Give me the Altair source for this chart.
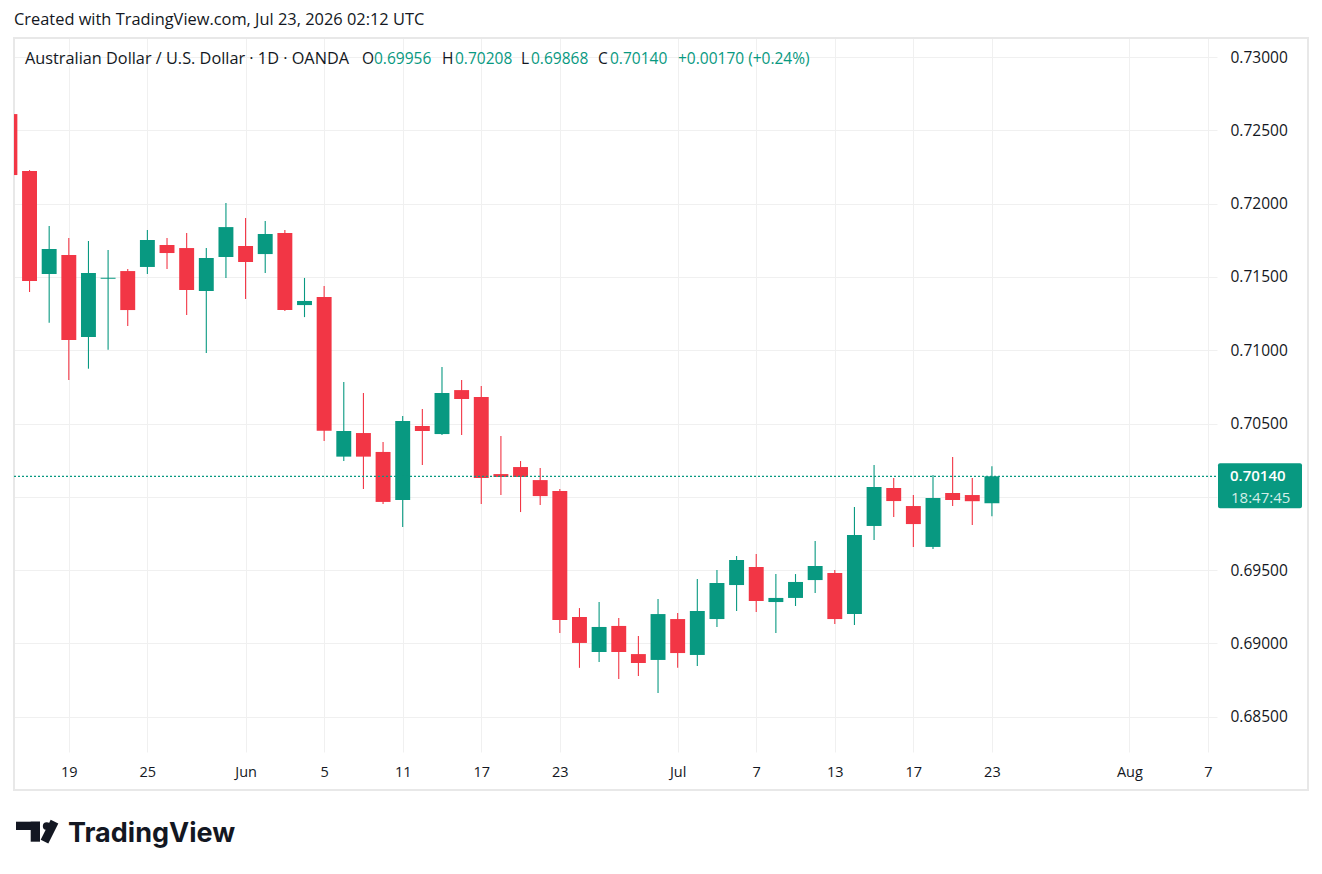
import altair as alt
import pandas as pd

# ---------------- data ----------------
dates = [
    "2026-05-14", "2026-05-15", "2026-05-18", "2026-05-19", "2026-05-20", "2026-05-21", "2026-05-22",
    "2026-05-25", "2026-05-26", "2026-05-27", "2026-05-28", "2026-05-29",
    "2026-06-01", "2026-06-02", "2026-06-03", "2026-06-04", "2026-06-05",
    "2026-06-08", "2026-06-09", "2026-06-10", "2026-06-11", "2026-06-12",
    "2026-06-15", "2026-06-16", "2026-06-17", "2026-06-18", "2026-06-19",
    "2026-06-22", "2026-06-23", "2026-06-24", "2026-06-25", "2026-06-26",
    "2026-06-29", "2026-06-30", "2026-07-01", "2026-07-02", "2026-07-03",
    "2026-07-06", "2026-07-07", "2026-07-08", "2026-07-09", "2026-07-10",
    "2026-07-13", "2026-07-14", "2026-07-15", "2026-07-16", "2026-07-17",
    "2026-07-20", "2026-07-21", "2026-07-22", "2026-07-23",
]
opens = [
    0.72611, 0.72222, 0.71520, 0.71649, 0.71090, 0.71487, 0.71540, 0.71568, 0.71718, 0.71697,
    0.71404, 0.71636, 0.71711, 0.71656, 0.71799, 0.71308, 0.71363, 0.70274, 0.70435, 0.70306,
    0.69978, 0.70483, 0.70428, 0.70728, 0.70681, 0.70155, 0.70203, 0.70114, 0.70040, 0.69180,
    0.68941, 0.69119, 0.68927, 0.68887, 0.69166, 0.68921, 0.69166, 0.69398, 0.69521, 0.69282,
    0.69310, 0.69432, 0.69480, 0.69200, 0.69801, 0.70060, 0.69937, 0.69658, 0.70026, 0.70012,
    0.69956,
]
highs = [
    0.72650, 0.72229, 0.71847, 0.71766, 0.71745, 0.71683, 0.71554, 0.71820, 0.71765, 0.71799,
    0.71697, 0.72004, 0.71902, 0.71881, 0.71820, 0.71493, 0.71438, 0.70783, 0.70708, 0.70374,
    0.70551, 0.70599, 0.70885, 0.70797, 0.70756, 0.70415, 0.70244, 0.70196, 0.70053, 0.69241,
    0.69282, 0.69173, 0.69050, 0.69303, 0.69207, 0.69439, 0.69501, 0.69596, 0.69610, 0.69473,
    0.69473, 0.69698, 0.69501, 0.69930, 0.70217, 0.70128, 0.70012, 0.70149, 0.70271, 0.70128,
    0.70208,
]
lows = [
    0.72150, 0.71397, 0.71188, 0.70797, 0.70874, 0.71003, 0.71165, 0.71520, 0.71554, 0.71240,
    0.70981, 0.71493, 0.71350, 0.71527, 0.71267, 0.71226, 0.70381, 0.70244, 0.70053, 0.69951,
    0.69794, 0.70217, 0.70422, 0.70422, 0.69951, 0.70012, 0.69896, 0.69944, 0.69071, 0.68833,
    0.68873, 0.68757, 0.68778, 0.68662, 0.68833, 0.68846, 0.69112, 0.69221, 0.69214, 0.69071,
    0.69255, 0.69344, 0.69132, 0.69125, 0.69705, 0.69862, 0.69658, 0.69644, 0.69937, 0.69808,
    0.69868,
]
closes = [
    0.72195, 0.71472, 0.71690, 0.71070, 0.71527, 0.71494, 0.71274, 0.71752, 0.71663, 0.71411,
    0.71629, 0.71840, 0.71602, 0.71793, 0.71274, 0.71336, 0.70451, 0.70449, 0.70274, 0.69965,
    0.70517, 0.70449, 0.70708, 0.70667, 0.70128, 0.70135, 0.70135, 0.70005, 0.69160, 0.69003,
    0.69112, 0.68941, 0.68866, 0.69200, 0.68934, 0.69221, 0.69412, 0.69569, 0.69289, 0.69310,
    0.69419, 0.69528, 0.69166, 0.69739, 0.70067, 0.69971, 0.69814, 0.69992, 0.69978, 0.69970,
    0.70140,
]

# time-axis ticks (trading-day index -> label)
tick_idx = [3, 7, 12, 16, 20, 24, 28, 34, 38, 42, 46, 50, 57, 61]
tick_text = ["19", "25", "Jun", "5", "11", "17", "23", "Jul", "7", "13", "17", "23", "Aug", "7"]
price_ticks = [0.685, 0.690, 0.695, 0.700, 0.705, 0.710, 0.715, 0.720, 0.725, 0.730]

title_text = "Australian Dollar / U.S. Dollar \u00b7 1D \u00b7 OANDA"
created_text = "Created with TradingView.com, Jul 23, 2026 02:12 UTC"
countdown_text = "18:47:45"

# ---------------- styling ----------------
GREEN = "#089981"
RED = "#F23645"
TXT = "#131722"
GRID = "#f0f0f0"
FONT = "Open Sans"

W, H = 1203, 714

df = pd.DataFrame({
    "idx": list(range(len(dates))),
    "date": dates,
    "open": opens,
    "high": highs,
    "low": lows,
    "close": closes,
})
last = df.iloc[[-1]].reset_index(drop=True)

x_scale = alt.Scale(domain=[0.209, 61.46], nice=False, zero=False)
y_scale = alt.Scale(domain=[0.68259, 0.73130], nice=False, zero=False)

label_expr = " : ".join(
    f"datum.value == {i} ? '{t}'" for i, t in zip(tick_idx, tick_text)
) + " : ''"

x_axis = alt.Axis(
    values=tick_idx, labelExpr=label_expr, grid=True, gridColor=GRID, gridWidth=1,
    domain=False, ticks=False, labelFont=FONT, labelFontSize=14.5, labelColor=TXT,
    labelPadding=20, labelBaseline="middle", labelAngle=0, labelOverlap=False,
    labelFlush=False, title="",
)
y_axis = alt.Axis(
    orient="right", values=price_ticks, format=".5f", grid=True, gridColor=GRID, gridWidth=1,
    domain=False, ticks=False, labelFont=FONT, labelFontSize=15.5, labelColor=TXT,
    labelPadding=13, labelBaseline="middle", labelAlign="left", title="",
)

color = alt.Color(
    "dir:N", scale=alt.Scale(domain=["up", "down"], range=[GREEN, RED]), legend=None
)

base = alt.Chart(df).transform_calculate(
    lo="min(datum.open, datum.close)",
    hi="max(datum.open, datum.close)",
    xa="datum.idx - 0.38",
    xb="datum.idx + 0.38",
    dir="datum.close >= datum.open ? 'up' : 'down'",
)

one = pd.DataFrame({"a": [0]})

# outer frame
frame = alt.Chart(one).mark_rect(
    fillOpacity=0, stroke="#e8e8e8", strokeWidth=2
).encode(x=alt.value(0), x2=alt.value(1294), y=alt.value(0), y2=alt.value(752))

wicks = base.mark_rule(strokeWidth=1.1, clip=True).encode(
    x=alt.X("idx:Q", scale=x_scale, axis=x_axis),
    y=alt.Y("low:Q", scale=y_scale, axis=y_axis),
    y2="high:Q",
    color=color,
)

bodies = base.mark_rect(clip=True).encode(
    x=alt.X("xa:Q", scale=x_scale, axis=x_axis),
    x2="xb:Q",
    y=alt.Y("lo:Q", scale=y_scale, axis=y_axis),
    y2="hi:Q",
    color=color,
)

price_line = alt.Chart(last).mark_rule(
    color=GREEN, strokeDash=[2, 2], strokeWidth=1.3
).encode(
    y=alt.Y("close:Q", scale=y_scale, axis=y_axis),
    x=alt.value(0), x2=alt.value(W),
)

price_box = alt.Chart(last).mark_rect(
    color=GREEN, yOffset=-13, y2Offset=32, cornerRadius=2
).encode(
    y=alt.Y("close:Q", scale=y_scale, axis=y_axis),
    y2="close:Q",
    x=alt.value(1204), x2=alt.value(1288),
)

price_box_text = alt.Chart(last).mark_text(
    align="left", baseline="middle", font=FONT, fontSize=15, color="white", fontWeight=600
).encode(
    y=alt.Y("close:Q", scale=y_scale, axis=y_axis),
    x=alt.value(1216),
    text=alt.Text("close:Q", format=".5f"),
)

countdown = alt.Chart(last).mark_text(
    align="left", baseline="middle", font=FONT, fontSize=15, color="#d3eee8",
    yOffset=22, text=countdown_text,
).encode(
    y=alt.Y("close:Q", scale=y_scale, axis=y_axis),
    x=alt.value(1217),
)

# header legend (OHLC values taken from the last bar)
o, h, l, c = opens[-1], highs[-1], lows[-1], closes[-1]
chg = c - closes[-2]
pct = chg / closes[-2] * 100
header_parts = [
    (title_text, TXT, 11, 16.3),
    ("O", TXT, 348, 15.5), (f"{o:.5f}", GREEN, 360, 15.5),
    ("H", TXT, 428, 15.5), (f"{h:.5f}", GREEN, 441, 15.5),
    ("L", TXT, 507, 15.5), (f"{l:.5f}", GREEN, 517, 15.5),
    ("C", TXT, 584, 15.5), (f"{c:.5f}", GREEN, 596, 15.5),
    (f"{chg:+.5f} ({pct:+.2f}%)", GREEN, 664, 15.5),
]
header_layers = [
    alt.Chart(one).mark_text(
        align="left", baseline="middle", font=FONT, fontSize=fs, color=col, text=txt
    ).encode(x=alt.value(xp), y=alt.value(21))
    for txt, col, xp, fs in header_parts
]

created = alt.Chart(one).mark_text(
    align="left", baseline="middle", font=FONT, fontSize=16.4, color=TXT, text=created_text
).encode(x=alt.value(0), y=alt.value(-18))

# TradingView logo + wordmark (decoration)
logo_bar = alt.Chart(one).mark_rect(color="#131722").encode(
    x=alt.value(2), x2=alt.value(26), y=alt.value(783.7), y2=alt.value(792))
logo_stem = alt.Chart(one).mark_rect(color="#131722").encode(
    x=alt.value(16.7), x2=alt.value(26), y=alt.value(783.7), y2=alt.value(803.7))
logo_dot = alt.Chart(one).mark_point(filled=True, color="#131722", size=60, opacity=1).encode(
    x=alt.value(32.7), y=alt.value(788))
logo_slash = alt.Chart(one).mark_rule(color="#131722", strokeWidth=8.5).encode(
    x=alt.value(40.5), y=alt.value(783.7), x2=alt.value(30.5), y2=alt.value(803.7))
wordmark = alt.Chart(one).mark_text(
    align="left", baseline="alphabetic", font="Inter", fontSize=27, fontWeight="bold",
    color="#131722", text="TradingView"
).encode(x=alt.value(54), y=alt.value(804))

chart = alt.layer(
    frame, wicks, bodies, price_line, price_box, price_box_text, countdown,
    *header_layers, created, logo_bar, logo_stem, logo_dot, logo_slash, wordmark,
).properties(
    width=W, height=H,
    padding={"left": 14, "top": 38, "right": 105, "bottom": 122},
    autosize=alt.AutoSizeParams(type="none"),
    background="white",
).configure_view(strokeWidth=0)

chart.save("out.html", embed_options={"renderer": "svg", "actions": False})
